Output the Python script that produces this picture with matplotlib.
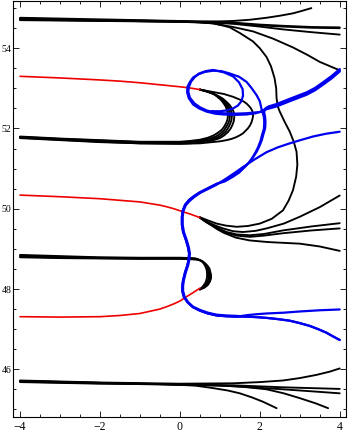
import matplotlib
matplotlib.use("Agg")
import matplotlib.pyplot as plt
from matplotlib.ticker import MultipleLocator

# ---- curve data (x, y) ----
# top band (black), all start at x=-4 near y=54.7
top_up = [(-4, 54.76), (-3, 54.74), (-2, 54.72), (-1, 54.70), (0, 54.68), (0.5, 54.67), (1.0, 54.67),
          (1.33, 54.68), (1.75, 54.71), (2.17, 54.76), (2.5, 54.81), (2.83, 54.87), (3.05, 54.93), (3.29, 55.0)]
top_flat1 = [(-4, 54.74), (-3, 54.72), (-2, 54.70), (-1, 54.69), (0, 54.67), (0.5, 54.66), (1.0, 54.65),
             (1.33, 54.64), (2.0, 54.59), (2.58, 54.56), (3.3, 54.53), (4.0, 54.52)]
top_flat2 = [(-4, 54.72), (-2, 54.69), (0, 54.66), (0.5, 54.65), (1.0, 54.64), (1.33, 54.62), (2.0, 54.57),
             (2.58, 54.54), (3.3, 54.51), (4.0, 54.50)]
top_low = [(-4, 54.71), (-2, 54.69), (0, 54.66), (0.5, 54.65), (1.0, 54.63), (1.33, 54.61), (2.0, 54.54),
           (2.58, 54.47), (3.3, 54.40), (4.0, 54.34)]
top_dive = [(-4, 54.70), (-2, 54.68), (0, 54.66), (0.5, 54.64), (0.83, 54.62), (1.33, 54.53), (1.83, 54.42),
            (2.33, 54.24), (2.83, 54.02), (3.2, 53.83), (3.5, 53.66), (4.0, 53.45)]
top_loop = [(-4, 54.73), (-2, 54.70), (0, 54.67), (0.5, 54.65), (0.83, 54.62), (1.1, 54.56), (1.25, 54.52),
            (1.5, 54.38), (1.83, 54.17), (2.0, 54.0), (2.17, 53.78), (2.28, 53.55), (2.37, 53.25), (2.41, 53.0),
            (2.42, 52.75), (2.45, 52.55), (2.5, 52.42), (2.62, 52.17), (2.75, 51.92), (2.85, 51.67), (2.92, 51.42),
            (2.94, 51.1), (2.91, 50.8), (2.83, 50.46), (2.72, 50.2), (2.58, 49.96), (2.3, 49.75), (2.0, 49.63),
            (1.7, 49.57), (1.42, 49.55), (1.15, 49.58), (0.92, 49.63), (0.7, 49.71), (0.5, 49.79)]

# fan near y=52 (black), starting at the end of the upper red curve
fan52_1 = [(0.5, 52.97), (0.63, 52.94), (0.75, 52.9), (0.86, 52.85), (0.95, 52.78), (1.03, 52.71), (1.1, 52.62),
           (1.15, 52.54), (1.18, 52.45), (1.2, 52.37), (1.2, 52.3), (1.19, 52.22), (1.16, 52.14), (1.11, 52.05),
           (1.05, 51.97), (0.96, 51.9), (0.85, 51.83), (0.7, 51.77), (0.5, 51.72), (0.25, 51.69), (0, 51.67),
           (-1, 51.67), (-2, 51.71), (-3, 51.75), (-4, 51.8)]
fan52_2 = [(0.5, 52.97), (0.65, 52.93), (0.78, 52.89), (0.9, 52.83), (1.0, 52.76), (1.08, 52.68), (1.15, 52.6),
           (1.2, 52.52), (1.23, 52.44), (1.25, 52.37), (1.25, 52.3), (1.24, 52.21), (1.21, 52.13), (1.16, 52.04),
           (1.1, 51.95), (1.01, 51.87), (0.9, 51.8), (0.72, 51.74), (0.5, 51.7), (0.25, 51.67), (0, 51.66),
           (-1, 51.66), (-2, 51.7), (-3, 51.74), (-4, 51.79)]
fan52_3 = [(0.5, 52.97), (0.66, 52.93), (0.8, 52.88), (0.93, 52.82), (1.04, 52.75), (1.13, 52.67), (1.2, 52.59),
           (1.25, 52.51), (1.28, 52.44), (1.3, 52.37), (1.3, 52.3), (1.29, 52.21), (1.26, 52.12), (1.21, 52.02),
           (1.15, 51.93), (1.06, 51.85), (0.95, 51.78), (0.75, 51.71), (0.5, 51.67), (0.25, 51.65), (0, 51.64),
           (-1, 51.65), (-2, 51.68), (-3, 51.73), (-4, 51.78)]
fan52_4 = [(0.5, 52.97), (0.67, 52.92), (0.83, 52.87), (0.96, 52.81), (1.08, 52.74), (1.17, 52.66), (1.25, 52.58),
           (1.3, 52.5), (1.34, 52.43), (1.36, 52.35), (1.36, 52.28), (1.35, 52.19), (1.32, 52.1), (1.27, 52.0),
           (1.2, 51.91), (1.11, 51.83), (1.0, 51.76), (0.78, 51.69), (0.5, 51.65), (0.25, 51.63), (0, 51.62),
           (-1, 51.63), (-2, 51.67), (-3, 51.72), (-4, 51.77)]
fan52_out = [(0.5, 52.97), (0.83, 52.91), (1.1, 52.86), (1.33, 52.79), (1.5, 52.72), (1.6, 52.67), (1.67, 52.62),
             (1.73, 52.56), (1.78, 52.5), (1.81, 52.44), (1.83, 52.38), (1.83, 52.31), (1.82, 52.25), (1.79, 52.15),
             (1.75, 52.07), (1.7, 52.0), (1.64, 51.94), (1.58, 51.88), (1.5, 51.83), (1.4, 51.78), (1.29, 51.74),
             (1.17, 51.71), (1.0, 51.68), (0.8, 51.66), (0.5, 51.63), (0, 51.62), (-1, 51.63), (-2, 51.66),
             (-3, 51.71), (-4, 51.76)]

# fan near y=49.8 (black), starting at the end of the middle red curve
fan50_up = [(0.5, 49.78), (0.65, 49.69), (0.8, 49.62), (0.94, 49.56), (1.08, 49.51), (1.33, 49.44), (1.58, 49.42),
            (1.9, 49.45), (2.17, 49.51), (2.6, 49.63), (3.0, 49.8), (3.5, 50.04), (4.0, 50.33)]
fan50_mid1 = [(0.5, 49.78), (0.65, 49.68), (0.8, 49.6), (0.98, 49.5), (1.17, 49.42), (1.42, 49.36), (1.75, 49.34),
              (2.1, 49.37), (2.58, 49.46), (3.3, 49.56), (4.0, 49.64)]
fan50_mid2 = [(0.5, 49.78), (0.65, 49.68), (0.8, 49.59), (0.98, 49.49), (1.17, 49.4), (1.42, 49.33), (1.75, 49.3),
              (2.1, 49.33), (2.58, 49.39), (3.3, 49.46), (4.0, 49.51)]
fan50_low = [(0.5, 49.78), (0.65, 49.67), (0.8, 49.58), (0.95, 49.48), (1.1, 49.4), (1.4, 49.28), (1.75, 49.21),
             (2.2, 49.17), (2.6, 49.15), (3.0, 49.13), (3.5, 49.06), (4.0, 48.95)]

# band near y=48.8 (black), ends at the end of the lower red curve
b48_1 = [(-4, 48.85), (-3, 48.82), (-2, 48.79), (-1, 48.78), (0, 48.78), (0.3, 48.77), (0.4, 48.76), (0.48, 48.73),
         (0.55, 48.69), (0.6, 48.63), (0.64, 48.56), (0.67, 48.48), (0.68, 48.39), (0.68, 48.3), (0.66, 48.21),
         (0.63, 48.14), (0.57, 48.06), (0.5, 47.99)]
b48_2 = [(-4, 48.83), (-3, 48.8), (-2, 48.78), (-1, 48.77), (0, 48.77), (0.3, 48.76), (0.42, 48.75), (0.5, 48.72),
         (0.58, 48.68), (0.63, 48.62), (0.68, 48.55), (0.7, 48.47), (0.72, 48.38), (0.72, 48.3), (0.7, 48.21),
         (0.66, 48.13), (0.59, 48.05), (0.5, 47.99)]
b48_3 = [(-4, 48.81), (-3, 48.78), (-2, 48.77), (-1, 48.76), (0, 48.76), (0.3, 48.75), (0.43, 48.74), (0.52, 48.71),
         (0.6, 48.66), (0.66, 48.6), (0.7, 48.53), (0.73, 48.45), (0.75, 48.36), (0.75, 48.28), (0.73, 48.19),
         (0.68, 48.11), (0.6, 48.04), (0.5, 47.99)]
b48_4 = [(-4, 48.79), (-3, 48.77), (-2, 48.76), (-1, 48.75), (0, 48.75), (0.3, 48.74), (0.44, 48.73), (0.54, 48.7),
         (0.63, 48.64), (0.69, 48.58), (0.74, 48.51), (0.76, 48.43), (0.78, 48.35), (0.78, 48.27), (0.75, 48.18),
         (0.7, 48.1), (0.61, 48.03), (0.5, 47.99)]

# bottom band (black)
bot_up = [(-4, 45.72), (-2, 45.67), (0, 45.64), (1.33, 45.65), (2.0, 45.68), (2.58, 45.72), (3.0, 45.78),
          (3.42, 45.86), (3.75, 45.94), (4.0, 46.02)]
bot_flat = [(-4, 45.71), (-2, 45.66), (0, 45.62), (1.33, 45.6), (2.58, 45.55), (4.0, 45.51)]
bot_low = [(-4, 45.70), (-2, 45.66), (0, 45.62), (1.33, 45.58), (2.58, 45.5), (3.3, 45.45), (4.0, 45.4)]
bot_dive2 = [(-4, 45.69), (-2, 45.65), (0, 45.61), (0.92, 45.6), (1.6, 45.56), (2.17, 45.5), (2.6, 45.4),
             (3.0, 45.28), (3.4, 45.15), (3.71, 45.03)]
bot_dive1 = [(-4, 45.68), (-2, 45.64), (-0.33, 45.63), (0.4, 45.59), (0.83, 45.53), (1.2, 45.47), (1.5, 45.4),
             (1.8, 45.3), (2.08, 45.19), (2.25, 45.11), (2.42, 45.03)]

# red curves
red_top = [(-4, 53.3), (-3, 53.26), (-2, 53.21), (-1.5, 53.18), (-1, 53.14), (-0.5, 53.09), (0, 53.04),
           (0.25, 53.01), (0.5, 52.97)]
red_mid = [(-4, 50.34), (-3, 50.3), (-2, 50.25), (-1, 50.17), (-0.5, 50.09), (-0.33, 50.05), (-0.15, 50.0),
           (0, 49.95), (0.25, 49.87), (0.5, 49.78)]
red_low = [(-4, 47.31), (-3, 47.3), (-2, 47.31), (-1.5, 47.34), (-1, 47.39), (-0.5, 47.5), (-0.33, 47.56),
           (-0.15, 47.63), (0, 47.7), (0.15, 47.8), (0.3, 47.89), (0.5, 48.02)]

# blue curves, pieces read bottom-right -> S bend -> upper region
blue_low_thick = [(4.0, 46.73), (3.83, 46.82), (3.67, 46.91), (3.46, 47.0), (3.25, 47.08), (3.0, 47.15),
                  (2.75, 47.21), (2.45, 47.25), (2.17, 47.28), (1.9, 47.3), (1.7, 47.31)]
blue_low_thin = [(4.0, 47.49), (3.5, 47.47), (3.0, 47.44), (2.6, 47.41), (2.17, 47.39), (1.9, 47.37), (1.7, 47.35)]
blue_s = [(1.42, 47.33), (1.17, 47.34), (0.92, 47.36), (0.7, 47.41), (0.5, 47.48), (0.33, 47.56), (0.21, 47.67),
          (0.12, 47.8), (0.08, 47.95), (0.08, 48.08), (0.1, 48.22), (0.15, 48.42), (0.21, 48.6), (0.24, 48.75),
          (0.25, 48.89), (0.22, 49.05), (0.17, 49.22), (0.1, 49.42), (0.07, 49.6), (0.07, 49.8), (0.09, 49.95),
          (0.15, 50.09), (0.25, 50.2), (0.37, 50.3), (0.5, 50.39), (0.7, 50.49), (0.92, 50.6)]
blue_s2 = [(1.42, 47.31), (1.17, 47.32), (0.92, 47.34), (0.7, 47.39), (0.5, 47.46), (0.32, 47.55), (0.19, 47.67),
           (0.1, 47.8), (0.06, 47.95), (0.06, 48.08), (0.08, 48.22), (0.13, 48.42), (0.19, 48.6), (0.22, 48.75),
           (0.23, 48.89), (0.2, 49.05), (0.15, 49.22), (0.08, 49.42), (0.05, 49.6), (0.05, 49.8), (0.07, 49.95),
           (0.13, 50.1), (0.23, 50.22), (0.36, 50.32), (0.5, 50.41), (0.7, 50.51), (0.92, 50.62)]
blue_branch = [(1.17, 50.76), (1.38, 50.9), (1.58, 51.04), (1.87, 51.23), (2.17, 51.41), (2.45, 51.53),
               (2.75, 51.63), (3.05, 51.72), (3.33, 51.8), (3.66, 51.87), (4.0, 51.92)]
blue_rise = [(1.12, 50.68), (1.33, 50.8), (1.48, 50.9), (1.6, 51.02), (1.71, 51.13), (1.8, 51.25), (1.89, 51.4),
             (1.96, 51.54), (2.02, 51.7), (2.06, 51.85), (2.1, 51.98), (2.11, 52.1), (2.11, 52.2), (2.1, 52.3),
             (2.07, 52.4), (2.04, 52.5)]
blue_rise2 = [(1.12, 50.7), (1.33, 50.83), (1.5, 50.93), (1.63, 51.05), (1.74, 51.16), (1.83, 51.28), (1.92, 51.42),
              (1.99, 51.56), (2.05, 51.71), (2.09, 51.86), (2.13, 51.99), (2.14, 52.1), (2.14, 52.2), (2.13, 52.3),
              (2.11, 52.4), (2.12, 52.48)]
blue_outer_loop = [(2.0, 52.68), (1.92, 52.83), (1.8, 53.0), (1.67, 53.16), (1.48, 53.29), (1.25, 53.37),
                   (1.04, 53.43), (0.83, 53.44), (0.62, 53.41), (0.46, 53.35), (0.33, 53.27), (0.25, 53.16),
                   (0.19, 53.04), (0.18, 52.91), (0.22, 52.76), (0.33, 52.6), (0.48, 52.5), (0.67, 52.42),
                   (0.88, 52.37), (1.08, 52.35), (1.4, 52.34), (1.67, 52.35), (1.9, 52.38), (2.08, 52.44)]
blue_bundle = [(2.17, 52.52), (2.42, 52.58), (2.75, 52.71), (2.96, 52.79), (3.17, 52.87), (3.38, 52.98),
               (3.58, 53.12), (3.8, 53.28), (4.0, 53.45)]
blue_bundle2 = [(2.22, 52.55), (2.42, 52.61), (2.75, 52.74), (2.96, 52.82), (3.17, 52.9), (3.38, 53.01),
                (3.58, 53.15), (3.8, 53.31), (4.0, 53.48)]
blue_inner_loop = [(4.0, 53.42), (3.8, 53.25), (3.58, 53.09), (3.38, 52.95), (3.17, 52.84), (2.96, 52.76),
                   (2.75, 52.68), (2.42, 52.55), (2.17, 52.48), (2.0, 52.41), (1.67, 52.38), (1.4, 52.37),
                   (1.08, 52.38), (0.88, 52.4), (0.67, 52.45), (0.5, 52.53), (0.36, 52.63), (0.25, 52.77),
                   (0.21, 52.92), (0.23, 53.05), (0.28, 53.17), (0.37, 53.28), (0.48, 53.37), (0.65, 53.43),
                   (0.83, 53.46), (1.1, 53.4), (1.33, 53.3), (1.48, 53.15), (1.57, 52.98), (1.58, 52.82),
                   (1.54, 52.68), (1.45, 52.57), (1.33, 52.5), (1.17, 52.45), (1.0, 52.43), (0.8, 52.43)]

# assembled blue trajectories
blue_a = blue_low_thick + blue_s + blue_branch
blue_b = blue_low_thin + blue_s2 + blue_rise + blue_outer_loop + blue_bundle
blue_c = blue_low_thick + blue_s2 + blue_rise2 + blue_bundle2

black_curves = [top_up, top_flat1, top_flat2, top_low, top_dive, top_loop,
                fan52_1, fan52_2, fan52_3, fan52_4, fan52_out,
                fan50_up, fan50_mid1, fan50_mid2, fan50_low,
                b48_1, b48_2, b48_3, b48_4,
                bot_up, bot_flat, bot_low, bot_dive2, bot_dive1]
red_curves = [red_top, red_mid, red_low]
blue_curves = [blue_a, blue_b, blue_c, blue_inner_loop]


def draw(ax, pts, color, lw):
    xs = [p[0] for p in pts]
    ys = [p[1] for p in pts]
    ax.plot(xs, ys, color=color, lw=lw, solid_joinstyle='round', solid_capstyle='round')


fig = plt.figure(figsize=(3.48, 4.32), dpi=100)
ax = fig.add_axes([13.3 / 348, 15 / 432, (346.5 - 13.3) / 348, (431.5 - 15) / 432])

for c in black_curves:
    draw(ax, c, 'black', 1.35)
for c in red_curves:
    draw(ax, c, '#ee0000', 1.2)
for c in blue_curves:
    draw(ax, c, '#0000ee', 1.6)

ax.set_xlim(-4.17, 4.17)
ax.set_ylim(44.81, 55.19)
ax.xaxis.set_major_locator(MultipleLocator(2))
ax.xaxis.set_minor_locator(MultipleLocator(0.5))
ax.yaxis.set_major_locator(MultipleLocator(2))
ax.yaxis.set_minor_locator(MultipleLocator(0.5))
ax.tick_params(which='both', direction='in', top=True, right=True, width=0.6)
ax.tick_params(axis='x', labelsize=8.5, pad=3)
# y labels kept small so they fit in the narrow left margin
ax.tick_params(axis='y', labelsize=7, pad=1.5)
ax.tick_params(which='major', length=4)
ax.tick_params(which='minor', length=2.2)
for lab in ax.get_xticklabels() + ax.get_yticklabels():
    lab.set_fontfamily('Liberation Serif')
for sp in ax.spines.values():
    sp.set_linewidth(0.8)

fig.savefig('out.png', dpi=100)
